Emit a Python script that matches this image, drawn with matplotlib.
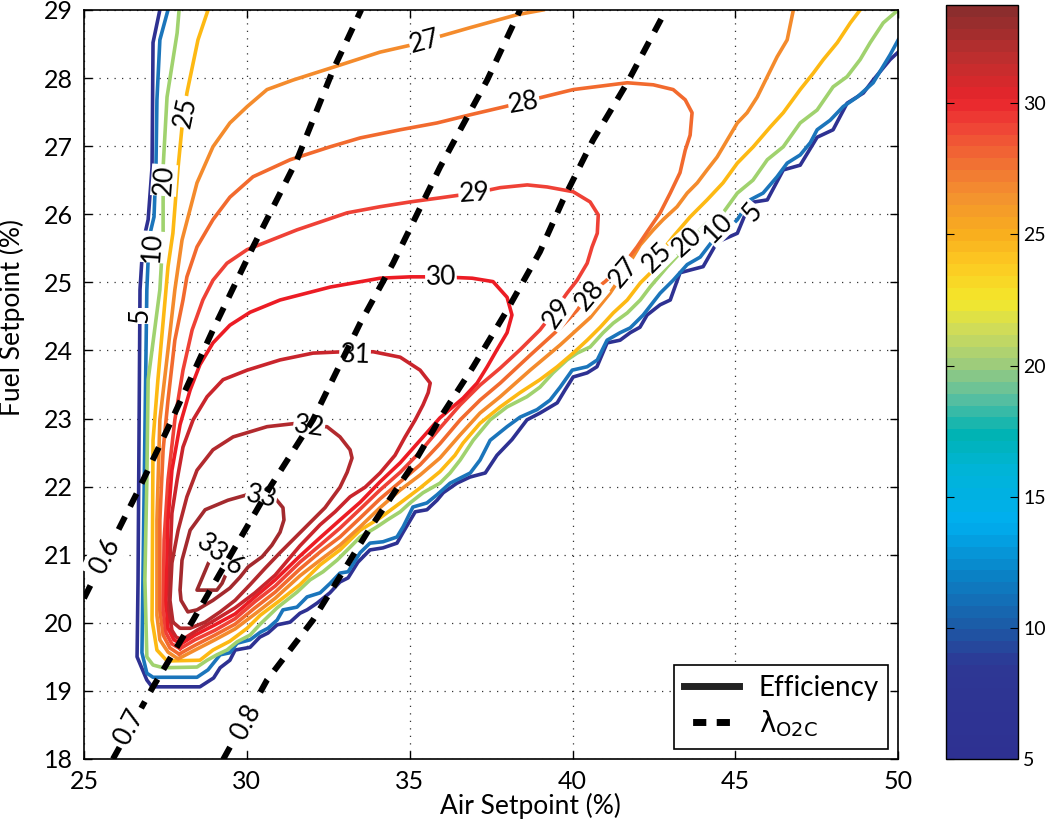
import numpy as np
import matplotlib
matplotlib.use('Agg')
import matplotlib.pyplot as plt
from matplotlib.colors import LinearSegmentedColormap, Normalize
from matplotlib.cm import ScalarMappable
from matplotlib.lines import Line2D

plt.rcParams['font.family'] = ['Lato', 'DejaVu Sans']
plt.rcParams['mathtext.fontset'] = 'dejavusans'

# efficiency contour lines: [air %, fuel %]
eff5 = np.array([
    [27.33, 29.00], [27.12, 28.52], [27.09, 26.69], [26.97, 25.92], [26.81, 25.58], [26.72, 24.89],
    [26.66, 20.63], [26.63, 19.50], [26.93, 19.16], [27.09, 19.06], [28.56, 19.06], [28.98, 19.19],
    [29.18, 19.34], [29.48, 19.45], [29.64, 19.60], [30.10, 19.64], [30.40, 19.79], [30.65, 19.85],
    [30.93, 19.97], [31.33, 20.01], [31.63, 20.14], [31.85, 20.19], [32.16, 20.29], [32.55, 20.44],
    [32.86, 20.60], [33.11, 20.66], [33.41, 20.89], [33.78, 21.07], [34.18, 21.10], [34.61, 21.17],
    [34.80, 21.33], [35.17, 21.63], [35.53, 21.66], [35.84, 21.80], [36.03, 21.91], [36.45, 22.05],
    [36.85, 22.14], [37.32, 22.20], [37.68, 22.46], [38.14, 22.69], [38.60, 22.98], [39.00, 23.08],
    [39.53, 23.23], [39.77, 23.42], [40.02, 23.61], [40.45, 23.67], [40.75, 23.76], [41.06, 24.11],
    [41.46, 24.15], [41.77, 24.26], [42.07, 24.34], [42.29, 24.52], [42.69, 24.67], [43.00, 24.74],
    [43.30, 25.14], [43.61, 25.18], [44.01, 25.23], [44.44, 25.59], [45.06, 25.72], [45.45, 26.17],
    [45.98, 26.21], [46.47, 26.65], [46.99, 26.72], [47.51, 27.13], [48.00, 27.24], [48.43, 27.63],
    [48.93, 27.78], [49.23, 27.97], [49.75, 28.27], [50.00, 28.38]])

eff10 = np.array([
    [27.58, 29.00], [27.33, 28.56], [27.24, 27.68], [27.21, 26.69], [27.15, 25.96], [27.03, 25.72],
    [26.97, 25.33], [26.93, 24.89], [26.81, 20.63], [26.78, 19.56], [26.93, 19.26], [27.12, 19.20],
    [28.47, 19.20], [28.81, 19.31], [29.18, 19.53], [29.48, 19.56], [29.70, 19.70], [30.10, 19.75],
    [30.41, 19.86], [30.65, 19.92], [30.93, 20.04], [31.11, 20.19], [31.54, 20.23], [31.85, 20.38],
    [32.25, 20.44], [32.56, 20.58], [32.86, 20.73], [33.11, 20.75], [33.48, 21.03], [33.78, 21.17],
    [34.18, 21.19], [34.61, 21.26], [34.80, 21.41], [35.10, 21.70], [35.53, 21.76], [35.84, 21.88],
    [36.24, 22.05], [36.86, 22.20], [37.16, 22.39], [37.47, 22.68], [37.99, 22.88], [38.39, 23.02],
    [38.91, 23.13], [39.31, 23.27], [39.62, 23.46], [39.99, 23.71], [40.45, 23.76], [40.76, 23.86],
    [41.06, 24.15], [41.46, 24.26], [41.77, 24.33], [42.17, 24.52], [42.69, 24.84], [43.09, 25.03],
    [43.52, 25.26], [43.92, 25.37], [44.32, 25.62], [44.75, 25.77], [45.06, 25.92], [45.45, 26.21],
    [45.85, 26.31], [46.28, 26.55], [46.59, 26.75], [46.99, 26.87], [47.30, 27.05], [47.51, 27.24],
    [47.91, 27.38], [48.31, 27.58], [48.74, 27.72], [49.23, 27.93], [49.75, 28.34], [50.00, 28.56]])

eff20 = np.array([
    [27.92, 29.00], [27.86, 28.66], [27.55, 27.72], [27.43, 26.69], [27.43, 25.72], [27.33, 24.89],
    [26.97, 23.57], [26.93, 22.10], [26.87, 20.63], [26.93, 19.50], [27.12, 19.38], [27.43, 19.34],
    [28.47, 19.35], [28.78, 19.45], [29.08, 19.53], [29.39, 19.60], [29.70, 19.72], [30.10, 19.82],
    [30.41, 19.98], [30.93, 20.22], [31.54, 20.45], [31.94, 20.63], [32.34, 20.75], [32.77, 20.92],
    [33.17, 21.11], [33.48, 21.26], [34.00, 21.41], [34.31, 21.51], [34.71, 21.63], [35.01, 21.76],
    [35.41, 21.91], [35.93, 22.05], [36.24, 22.20], [36.55, 22.39], [36.95, 22.68], [37.47, 22.98],
    [37.99, 23.17], [38.60, 23.32], [39.00, 23.46], [39.40, 23.67], [39.83, 23.86], [40.14, 23.96],
    [40.54, 24.05], [40.94, 24.26], [41.25, 24.40], [41.68, 24.55], [42.08, 24.74], [42.38, 24.93],
    [42.91, 25.23], [43.30, 25.43], [43.70, 25.67], [44.13, 25.87], [44.53, 25.96], [45.06, 26.31],
    [45.54, 26.50], [45.98, 26.80], [46.47, 26.99], [46.99, 27.34], [47.51, 27.53], [48.00, 27.87],
    [48.43, 28.02], [48.83, 28.27], [49.14, 28.52], [49.54, 28.81], [50.00, 29.00]])

eff25 = np.array([
    [28.81, 29.00], [28.50, 28.56], [28.16, 27.78], [28.01, 27.28], [27.89, 26.69], [27.73, 25.72],
    [27.58, 25.23], [27.49, 24.74], [27.27, 23.57], [27.12, 22.68], [27.09, 20.04], [27.24, 19.60],
    [27.55, 19.44], [28.56, 19.45], [28.96, 19.60], [29.48, 19.73], [30.01, 19.92], [30.41, 20.11],
    [31.02, 20.33], [31.63, 20.56], [32.25, 20.85], [32.86, 21.07], [33.48, 21.36], [34.09, 21.54],
    [34.71, 21.76], [35.32, 21.98], [35.93, 22.22], [36.39, 22.46], [36.64, 22.64], [37.16, 22.93],
    [37.78, 23.17], [38.39, 23.38], [39.00, 23.57], [39.53, 23.76], [40.02, 23.96], [40.45, 24.15],
    [40.85, 24.34], [41.25, 24.55], [41.68, 24.74], [42.08, 24.99], [42.48, 25.18], [42.78, 25.48],
    [43.09, 25.67], [43.61, 25.96], [44.13, 26.21], [44.62, 26.46], [45.06, 26.75], [45.55, 26.99],
    [46.07, 27.28], [46.47, 27.49], [46.99, 27.83], [47.39, 28.07], [47.70, 28.27], [48.13, 28.52],
    [48.53, 28.81], [48.83, 29.00]])

eff27 = np.array([
    [39.10, 29.00], [38.30, 28.93], [36.86, 28.74], [35.84, 28.60], [35.10, 28.49], [34.09, 28.38],
    [32.86, 28.19], [31.42, 27.97], [30.62, 27.83], [30.01, 27.58], [29.48, 27.34], [28.96, 26.99],
    [28.47, 26.46], [28.01, 25.62], [27.79, 24.89], [27.58, 24.01], [27.33, 22.98], [27.24, 21.51],
    [27.24, 20.11], [27.33, 19.75], [27.58, 19.57], [27.89, 19.47], [28.41, 19.60], [29.02, 19.75],
    [29.64, 19.91], [30.25, 20.13], [30.87, 20.36], [31.63, 20.69], [32.25, 20.92], [32.86, 21.14],
    [33.48, 21.41], [34.09, 21.69], [34.71, 21.95], [35.32, 22.17], [35.93, 22.42], [36.55, 22.76],
    [37.16, 23.08], [37.78, 23.32], [38.70, 23.71], [39.62, 24.08], [40.54, 24.48], [41.15, 24.84],
    [41.58, 25.15], [42.08, 25.55], [42.48, 25.77], [42.78, 25.92], [43.21, 26.11], [43.52, 26.31],
    [43.83, 26.46], [44.13, 26.65], [44.44, 26.84], [44.75, 27.09], [45.06, 27.34], [45.36, 27.49],
    [45.67, 27.72], [45.98, 28.02], [46.28, 28.31], [46.59, 28.56], [46.78, 29.00]])

eff28 = np.array([
    [27.92, 19.54], [28.41, 19.67], [29.02, 19.82], [29.64, 19.98], [30.25, 20.22], [30.87, 20.45],
    [31.63, 20.79], [32.25, 21.04], [32.86, 21.26], [33.48, 21.54], [34.09, 21.82], [34.71, 22.07],
    [35.32, 22.32], [35.93, 22.63], [36.55, 22.98], [37.16, 23.27], [37.78, 23.52], [38.70, 23.93],
    [39.62, 24.33], [40.14, 24.59], [40.54, 24.84], [41.00, 25.01], [41.37, 25.18], [41.68, 25.33],
    [41.98, 25.52], [42.29, 25.74], [42.69, 26.02], [43.00, 26.31], [43.30, 26.61], [43.46, 26.94],
    [43.61, 27.16], [43.67, 27.49], [43.46, 27.68], [43.09, 27.83], [42.48, 27.90], [41.68, 27.93],
    [40.85, 27.88], [40.02, 27.83], [39.00, 27.71], [37.93, 27.58], [36.86, 27.46], [35.84, 27.34],
    [34.71, 27.24], [33.48, 27.12], [32.56, 26.99], [31.33, 26.80], [30.19, 26.55], [29.48, 26.25],
    [28.96, 25.92], [28.47, 25.52], [28.16, 25.08], [28.04, 24.74], [27.79, 24.15], [27.58, 23.27],
    [27.43, 22.54], [27.33, 21.51], [27.33, 20.19], [27.43, 19.82], [27.64, 19.63], [27.92, 19.54]])

eff29 = np.array([
    [27.95, 19.62], [28.41, 19.75], [29.02, 19.89], [29.64, 20.06], [30.25, 20.31], [30.87, 20.54],
    [31.63, 20.89], [32.25, 21.14], [32.86, 21.39], [33.48, 21.67], [34.09, 21.95], [34.71, 22.21],
    [35.32, 22.51], [35.93, 22.86], [36.55, 23.20], [37.16, 23.49], [37.78, 23.74], [38.39, 24.01],
    [39.00, 24.30], [39.40, 24.55], [39.83, 24.84], [40.14, 25.03], [40.45, 25.28], [40.60, 25.52],
    [40.76, 25.72], [40.79, 25.99], [40.54, 26.18], [40.02, 26.33], [39.22, 26.40], [38.61, 26.43],
    [37.78, 26.39], [36.98, 26.31], [35.93, 26.24], [35.01, 26.18], [34.09, 26.11], [33.08, 26.02],
    [31.54, 25.77], [30.01, 25.48], [29.39, 25.28], [28.96, 25.03], [28.65, 24.74], [28.32, 24.30],
    [28.04, 23.71], [27.79, 22.98], [27.58, 22.10], [27.46, 21.22], [27.43, 20.19], [27.52, 19.85],
    [27.70, 19.69], [27.95, 19.62]])

eff30 = np.array([
    [27.98, 19.69], [28.41, 19.82], [29.02, 19.97], [29.64, 20.13], [30.25, 20.38], [30.87, 20.63],
    [31.63, 20.98], [32.25, 21.25], [32.86, 21.51], [33.48, 21.77], [34.09, 22.07], [34.71, 22.35],
    [35.32, 22.68], [35.93, 23.01], [36.64, 23.30], [37.07, 23.52], [37.38, 23.76], [37.68, 24.01],
    [37.99, 24.26], [38.14, 24.52], [37.99, 24.78], [37.56, 25.01], [36.92, 25.06], [35.96, 25.08],
    [35.01, 25.08], [34.09, 25.06], [32.56, 24.93], [31.02, 24.74], [30.10, 24.56], [29.48, 24.37],
    [28.96, 24.11], [28.56, 23.79], [28.26, 23.42], [27.95, 22.91], [27.70, 22.24], [27.58, 21.51],
    [27.52, 20.33], [27.58, 19.92], [27.76, 19.75], [27.98, 19.69]])

eff31 = np.array([
    [28.01, 19.75], [28.47, 19.89], [29.02, 20.04], [29.64, 20.22], [30.25, 20.44], [30.87, 20.70],
    [31.63, 21.13], [32.25, 21.44], [32.71, 21.63], [33.17, 21.85], [33.63, 21.99], [34.09, 22.20],
    [34.55, 22.46], [34.86, 22.73], [35.17, 22.98], [35.41, 23.20], [35.57, 23.38], [35.63, 23.52],
    [35.32, 23.71], [34.71, 23.90], [33.88, 23.98], [32.95, 23.98], [32.03, 23.96], [31.02, 23.86],
    [30.01, 23.71], [29.27, 23.57], [28.78, 23.32], [28.35, 22.98], [28.04, 22.58], [27.86, 22.10],
    [27.70, 21.61], [27.64, 20.92], [27.61, 20.19], [27.70, 19.89], [27.83, 19.79], [28.01, 19.75]])

eff32 = np.array([
    [27.73, 20.01], [27.95, 19.92], [28.26, 19.92], [28.72, 20.01], [29.18, 20.16], [29.64, 20.33],
    [30.10, 20.56], [30.56, 20.80], [31.02, 21.03], [31.48, 21.25], [31.94, 21.47], [32.40, 21.69],
    [32.86, 21.99], [33.08, 22.21], [33.23, 22.42], [33.17, 22.54], [32.86, 22.73], [32.46, 22.88],
    [31.91, 22.88], [31.54, 22.93], [30.62, 22.88], [29.58, 22.73], [28.96, 22.54], [28.47, 22.24],
    [28.16, 21.85], [27.89, 21.36], [27.70, 20.88], [27.64, 20.33], [27.73, 20.01]])

eff33 = np.array([
    [30.01, 21.88], [30.47, 21.88], [30.87, 21.83], [31.11, 21.69], [31.14, 21.51], [31.02, 21.33],
    [30.77, 21.14], [30.47, 20.97], [30.04, 20.82], [29.79, 20.67], [29.48, 20.51], [28.96, 20.33],
    [28.47, 20.19], [28.19, 20.16], [27.98, 20.33], [27.95, 20.48], [28.01, 20.92], [28.26, 21.36],
    [28.72, 21.66], [29.42, 21.80], [30.01, 21.88]])

eff336 = np.array([
    [28.93, 21.00], [28.56, 20.58], [28.47, 20.48], [29.08, 20.48], [29.24, 20.58], [29.42, 20.78]])

levels = [5, 10, 20, 25, 27, 28, 29, 30, 31, 32, 33, 33.6]
contours = [eff5, eff10, eff20, eff25, eff27, eff28, eff29, eff30, eff31, eff32, eff33, eff336]

# lambda_O2C lines
lam06 = np.array([[25.00, 20.36], [26.63, 21.91], [27.55, 22.83], [28.96, 24.30], [30.19, 25.52],
                  [31.54, 26.80], [32.65, 28.12], [33.51, 29.00]])
lam07 = np.array([[25.89, 18.00], [27.12, 19.06], [28.35, 20.04], [29.18, 20.73], [30.71, 21.99],
                  [32.03, 22.98], [33.48, 24.40], [34.49, 25.28], [35.93, 26.69], [37.38, 27.97],
                  [38.39, 29.00]])
lam08 = np.array([[29.27, 17.99], [30.62, 19.16], [32.03, 20.04], [33.69, 21.32], [35.10, 22.32],
                  [36.03, 23.08], [36.95, 23.76], [37.99, 24.59], [39.00, 25.45], [39.71, 26.21],
                  [40.63, 27.09], [41.68, 27.93], [42.87, 29.00]])
lambdas = [lam06, lam07, lam08]

# inline labels: text, air, fuel, angle
lab_text = ['5', '10', '20', '25', '27', '28', '29', '30', '31', '32', '33', '33.6',
            '29', '28', '27', '25', '20', '10', '5']
lab_x = [26.72, 27.09, 27.46, 28.13, 35.47, 38.51, 36.98, 35.96, 33.32, 31.91, 30.44, 29.18,
         39.53, 40.54, 41.58, 42.60, 43.52, 44.47, 45.52]
lab_y = [24.51, 25.52, 26.50, 27.50, 28.53, 27.63, 26.30, 25.08, 23.93, 22.88, 21.85, 21.00,
         24.55, 24.81, 25.15, 25.36, 25.59, 25.80, 26.03]
lab_rot = [90, 86, 86, 78, 15, 10, 4, 1, -2, -8, -12, -38, 55, 50, 50, 45, 42, 45, 50]

lam_text = ['0.6', '0.7', '0.8']
lam_x = [25.64, 26.38, 29.98]
lam_y = [20.97, 18.47, 18.54]

line_colors = ['#2e3192', '#1b75bb', '#a0d26e', '#fdb913', '#f48b2c', '#f26a2e',
               '#ef4136', '#ec1c24', '#c9252c', '#b22a2e', '#a32a2e', '#9b2a2d']

cmap = LinearSegmentedColormap.from_list('eff', [
    (0.00, '#2e3192'), (0.12, '#2e3794'), (0.17, '#1c5aa6'), (0.24, '#0a82c6'),
    (0.31, '#00aeef'), (0.38, '#00b4d8'), (0.43, '#00b3b3'), (0.48, '#5bbf9f'),
    (0.52, '#9acb7e'), (0.57, '#cfdc5a'), (0.61, '#f4e82a'), (0.66, '#fcc822'),
    (0.70, '#f9ae1e'), (0.75, '#f3922f'), (0.80, '#f16c34'), (0.85, '#ef3e36'),
    (0.88, '#e8242b'), (0.93, '#c22e2e'), (1.00, '#8c2d2d')], N=64)
norm = Normalize(5, 33.75)

fig = plt.figure(figsize=(10.63, 8.25), dpi=100)
ax = fig.add_axes([0.079, 0.080, 0.766, 0.908])

for pts, col in zip(contours, line_colors):
    ax.plot(pts[:, 0], pts[:, 1], color=col, lw=2.6, zorder=2, solid_joinstyle='round')

for pts in lambdas:
    ax.plot(pts[:, 0], pts[:, 1], color='k', lw=4.3, linestyle=(0, (2.4, 1.9)), zorder=4)

for t, x, y, r in zip(lab_text, lab_x, lab_y, lab_rot):
    ax.text(x, y, t, rotation=r, ha='center', va='center', fontsize=19, zorder=3,
            rotation_mode='anchor',
            bbox=dict(boxstyle='square,pad=0.02', fc='white', ec='none'))

for t, x, y in zip(lam_text, lam_x, lam_y):
    ax.text(x, y, t, rotation=62, ha='center', va='center', fontsize=19, zorder=5,
            rotation_mode='anchor',
            bbox=dict(boxstyle='square,pad=0.15', fc='white', ec='none'))

ax.set_xlim(25, 50)
ax.set_ylim(18, 29)
ax.set_xticks(np.arange(25, 51, 5))
ax.set_yticks(np.arange(18, 30, 1))
ax.tick_params(direction='in', length=6, width=1, labelsize=18, top=True, right=True, pad=8)
ax.grid(True, color='#333333', linestyle=(0, (1, 5)), lw=0.9)
for s in ax.spines.values():
    s.set_linewidth(1.2)
ax.set_xlabel('Air Setpoint (%)', fontsize=19)
ax.set_ylabel('Fuel Setpoint (%)', fontsize=19)
ax.xaxis.set_label_coords(0.548, -0.045)
ax.yaxis.set_label_coords(-0.072, 0.589)

handles = [Line2D([], [], color='#222222', lw=5),
           Line2D([], [], color='k', lw=5, linestyle=(2.16, (1.9, 1.5)))]
leg = ax.legend(handles, ['Efficiency', r'$\mathrm{λ}_{\mathrm{O2C}}$'], loc='lower right',
                bbox_to_anchor=(0.988, 0.014), borderaxespad=0, fontsize=20,
                fancybox=False, framealpha=1, edgecolor='k', handlelength=2.0,
                handletextpad=0.7, labelspacing=0.25, borderpad=0.35)
leg.get_frame().set_linewidth(1.2)

cax = fig.add_axes([0.890, 0.080, 0.068, 0.914])
cb = fig.colorbar(ScalarMappable(norm=norm, cmap=cmap), cax=cax)
cb.set_ticks([5, 10, 15, 20, 25, 30])
cax.tick_params(direction='in', length=6, labelsize=14, left=True, right=True)
cb.outline.set_linewidth(1)

fig.savefig('out.png', dpi=100)
